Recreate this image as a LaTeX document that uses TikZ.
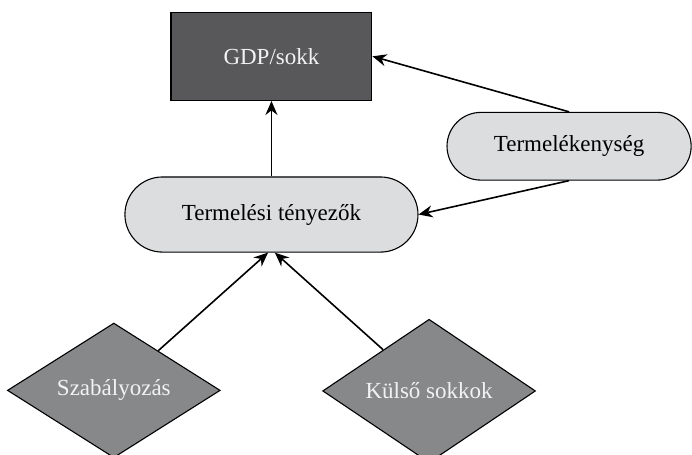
\documentclass[tikz,border=0pt]{standalone}
\usepackage{fontspec}
\setmainfont{Liberation Serif}
\usetikzlibrary{shapes.geometric,shapes.misc,arrows.meta,positioning}
\definecolor{gdpGray}{RGB}{88,88,90}
\definecolor{factGray}{RGB}{220,221,223}
\definecolor{shockGray}{RGB}{135,136,138}

\tikzset{
  outbox/.style={draw=black, line width=0.55pt, fill=gdpGray, text=white!95!black, minimum width=3.53cm, minimum height=1.55cm},
  pill/.style={rounded rectangle, draw=black, line width=0.55pt, fill=factGray, inner sep=0pt},
  driver/.style={diamond, draw=black, line width=0.55pt, fill=shockGray, text=white!95!black, minimum width=3.74cm, minimum height=2.28cm, inner sep=0pt},
  link/.style={-{Stealth[length=7pt,width=6pt]}, line width=0.8pt, black},
}

\begin{document}
\begin{tikzpicture}[font=\fontsize{11.5}{13}\selectfont]

% frame of the page
\useasboundingbox (0,0) rectangle (12.16,7.98);

% ===== TOP: output =====
\node[outbox] (gdp) at (4.77,6.99) {GDP/sokk};

% ===== MIDDLE: factors and productivity =====
\node[pill, minimum width=5.15cm, minimum height=1.32cm] (factors) at (4.77,4.21) {Termelési tényezők};
\node[pill, minimum width=4.29cm, minimum height=1.19cm] (productivity) at (10.0,5.41) {Termelékenység};

% ===== BOTTOM: drivers =====
\node[driver] (regulation) at (2.0,1.12) {Szabályozás};
\node[driver] (shocks) at (7.54,1.11) {Külső sokkok};

% Arrows up to GDP
\draw[link] (factors.north) -- (gdp.south);
\draw[link] (productivity.north) -- (gdp.east);

% Productivity feeds the factors
\draw[link] (productivity.south) -- (factors.east);

% Drivers feed the factors
\draw[link] (regulation) -- ([xshift=-0.06cm]factors.south);
\draw[link] (shocks) -- ([xshift=0.06cm]factors.south);

\end{tikzpicture}
\end{document}
